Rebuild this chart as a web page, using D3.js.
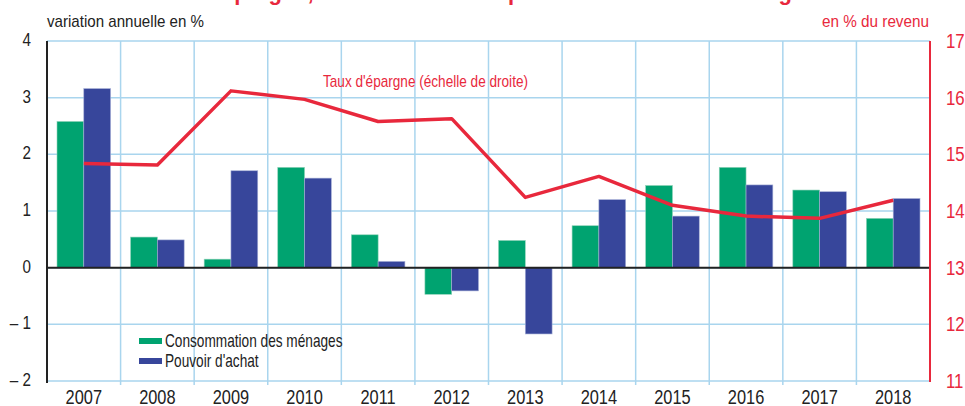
<!DOCTYPE html>
<html>
<head>
<meta charset="utf-8">
<script src="https://cdn.jsdelivr.net/npm/d3@7"></script>
<style>
  body { margin: 0; background: #fff; }
  svg { display: block; font-family: "Liberation Sans Narrow", "Arial Narrow", "Liberation Sans", sans-serif; }
</style>
</head>
<body>
<svg id="chart" width="965" height="406"></svg>
<script>
// data
var years = ["2007", "2008", "2009", "2010", "2011", "2012", "2013", "2014", "2015", "2016", "2017", "2018"];
var consommation = [2.58, 0.54, 0.15, 1.77, 0.58, -0.47, 0.48, 0.74, 1.45, 1.77, 1.37, 0.87];
var pouvoirAchat = [3.16, 0.49, 1.71, 1.58, 0.11, -0.41, -1.17, 1.20, 0.91, 1.46, 1.34, 1.22];
var tauxEpargne = [14.84, 14.81, 16.12, 15.97, 15.58, 15.63, 14.24, 14.61, 14.10, 13.91, 13.87, 14.19];
var leftTicks = [-2, -1, 0, 1, 2, 3, 4];
var rightTicks = [11, 12, 13, 14, 15, 16, 17];

var green = "#00a370";
var blue = "#37469b";
var red = "#e8283c";
var grid = "#a9d5ee";

// plot area
var pLeft = 47, pRight = 930, pTop = 41, pBottom = 381;

var svg = d3.select("#chart");

var x = d3.scaleBand().domain(years).range([pLeft, pRight]);
var yL = d3.scaleLinear().domain([-2, 4]).range([pBottom, pTop]);
var yR = d3.scaleLinear().domain([11, 17]).range([pBottom, pTop]);

// squeeze text horizontally around its own anchor (the original uses a condensed face)
function narrow(sel, k) {
    sel.attr("transform", function () {
        var tx = +this.getAttribute("x"), ty = +this.getAttribute("y");
        return "translate(" + tx + "," + ty + ") scale(" + k + ",1) translate(" + (-tx) + "," + (-ty) + ")";
    });
}

// cut-off title at the very top (only descenders show)
svg.append("text")
    .attr("x", 482)
    .attr("y", 0)
    .attr("text-anchor", "middle")
    .attr("fill", red)
    .attr("font-weight", "bold")
    .attr("font-size", 22)
    .text("Taux d'épargne, consommation et pouvoir d'achat des ménages");

// grid
svg.append("g").selectAll("line")
    .data(leftTicks)
    .enter()
    .append("line")
    .attr("x1", pLeft)
    .attr("x2", pRight)
    .attr("y1", function (d) { return yL(d); })
    .attr("y2", function (d) { return yL(d); })
    .attr("stroke", grid)
    .attr("stroke-width", 1.5);

svg.append("g").selectAll("line")
    .data(years.slice(1))
    .enter()
    .append("line")
    .attr("x1", function (d) { return x(d); })
    .attr("x2", function (d) { return x(d); })
    .attr("y1", pTop)
    .attr("y2", pBottom + 4)
    .attr("stroke", grid)
    .attr("stroke-width", 1.5);

// bars
var pad = 10;
var bw = (x.bandwidth() - 2 * pad) / 2;

svg.append("g").selectAll("rect")
    .data(consommation)
    .enter()
    .append("rect")
    .attr("x", function (d, i) { return x(years[i]) + pad; })
    .attr("y", function (d) { return yL(Math.max(0, d)); })
    .attr("width", bw)
    .attr("height", function (d) { return Math.abs(yL(d) - yL(0)); })
    .attr("fill", green)
    .attr("stroke", "#8fd3b8")
    .attr("stroke-width", 0.6);

svg.append("g").selectAll("rect")
    .data(pouvoirAchat)
    .enter()
    .append("rect")
    .attr("x", function (d, i) { return x(years[i]) + pad + bw; })
    .attr("y", function (d) { return yL(Math.max(0, d)); })
    .attr("width", bw)
    .attr("height", function (d) { return Math.abs(yL(d) - yL(0)); })
    .attr("fill", blue)
    .attr("stroke", "#a6afd6")
    .attr("stroke-width", 0.6);

// zero line and left axis
svg.append("line")
    .attr("x1", pLeft).attr("x2", pRight)
    .attr("y1", yL(0)).attr("y2", yL(0))
    .attr("stroke", "#222").attr("stroke-width", 2);

svg.append("line")
    .attr("x1", pLeft).attr("x2", pLeft)
    .attr("y1", pTop).attr("y2", pBottom + 2)
    .attr("stroke", "#222").attr("stroke-width", 2);

// right axis
svg.append("line")
    .attr("x1", pRight).attr("x2", pRight)
    .attr("y1", pTop).attr("y2", pBottom + 1)
    .attr("stroke", red).attr("stroke-width", 2);

// savings rate line
var line = d3.line()
    .x(function (d, i) { return x(years[i]) + x.bandwidth() / 2; })
    .y(function (d) { return yR(d); });

svg.append("path")
    .datum(tauxEpargne)
    .attr("d", line)
    .attr("fill", "none")
    .attr("stroke", red)
    .attr("stroke-width", 3.5)
    .attr("stroke-linejoin", "round");

svg.append("text")
    .attr("x", 323)
    .attr("y", 87)
    .attr("fill", red)
    .attr("font-size", 17)
    .attr("textLength", 205)
    .attr("lengthAdjust", "spacingAndGlyphs")
    .text("Taux d'épargne (échelle de droite)");

// tick labels
svg.append("g").selectAll("text")
    .data(leftTicks)
    .enter()
    .append("text")
    .attr("x", 31)
    .attr("y", function (d) { return yL(d) + 5; })
    .attr("text-anchor", "end")
    .attr("font-size", 19)
    .attr("fill", "#222")
    .text(function (d) { return d < 0 ? "\u2013 " + Math.abs(d) : d; })
    .call(narrow, 0.8);

svg.append("g").selectAll("text")
    .data(rightTicks)
    .enter()
    .append("text")
    .attr("x", 946)
    .attr("y", function (d) { return yR(d) + 7; })
    .attr("font-size", 21)
    .attr("fill", red)
    .text(function (d) { return d; })
    .call(narrow, 0.8);

svg.append("g").selectAll("text")
    .data(years)
    .enter()
    .append("text")
    .attr("x", function (d) { return x(d) + x.bandwidth() / 2; })
    .attr("y", 404)
    .attr("text-anchor", "middle")
    .attr("font-size", 21)
    .attr("fill", "#222")
    .text(function (d) { return d; })
    .call(narrow, 0.78);

// axis titles
svg.append("text")
    .attr("x", 47).attr("y", 27)
    .attr("font-size", 17)
    .attr("fill", "#222")
    .attr("textLength", 157)
    .attr("lengthAdjust", "spacingAndGlyphs")
    .text("variation annuelle en %");

svg.append("text")
    .attr("x", 822).attr("y", 27)
    .attr("font-size", 17)
    .attr("fill", red)
    .attr("textLength", 107)
    .attr("lengthAdjust", "spacingAndGlyphs")
    .text("en % du revenu");

// legend
var legend = [
    { label: "Consommation des ménages", color: green },
    { label: "Pouvoir d'achat", color: blue }
];

var lg = svg.append("g").selectAll("g")
    .data(legend)
    .enter()
    .append("g")
    .attr("transform", function (d, i) { return "translate(139," + (341 + i * 20) + ")"; });

lg.append("rect")
    .attr("x", 0).attr("y", -3)
    .attr("width", 23).attr("height", 6)
    .attr("fill", function (d) { return d.color; });

lg.append("text")
    .attr("x", 26).attr("y", 6)
    .attr("font-size", 17.5)
    .attr("fill", "#222")
    .text(function (d) { return d.label; })
    .call(narrow, 0.78);
</script>
</body>
</html>
